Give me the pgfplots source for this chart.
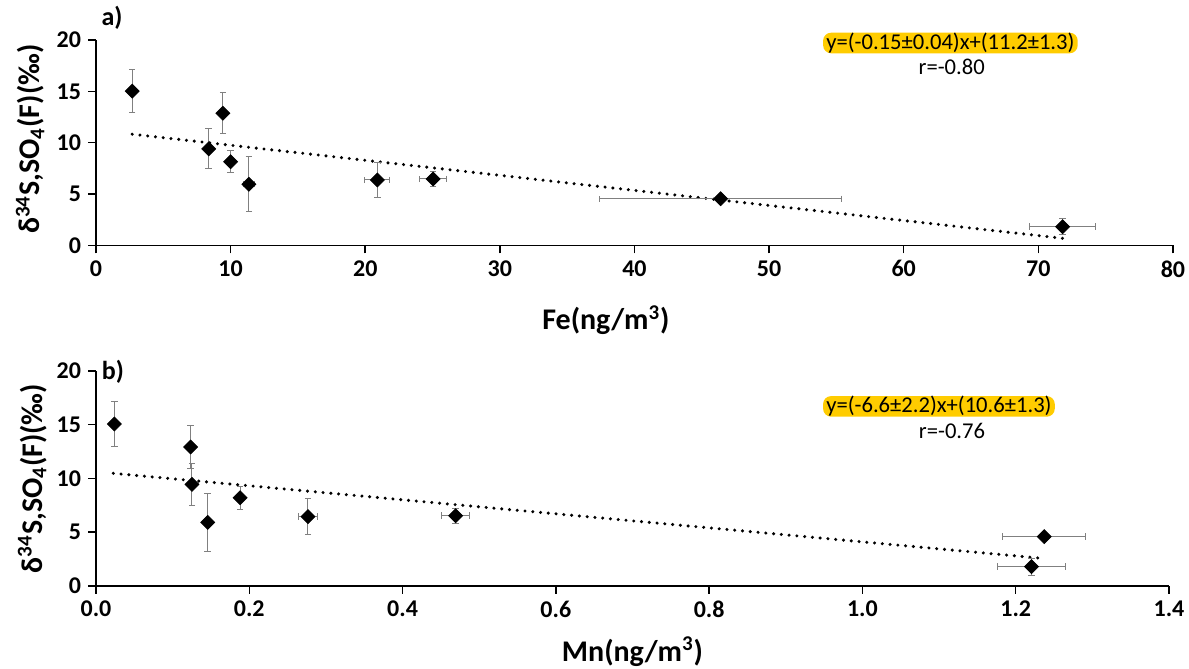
\documentclass[border=0pt]{standalone}
\usepackage{fontspec}
\setmainfont{Carlito}
\usepackage{pgfplots}
\pgfplotsset{compat=1.18}
\definecolor{gold}{RGB}{255,204,0}
\definecolor{errgray}{RGB}{128,128,128}
\pgfplotsset{
 myaxis/.style={
  scale only axis,
  axis x line*=bottom, axis y line*=left,
  axis line style={black, line width=0.75pt},
  tick style={black, line width=0.75pt},
  tick align=outside, major tick length=4pt,
  /pgf/number format/assume math mode=true,
  ticklabel style={font=\bfseries\fontsize{12}{14}\selectfont},
  label style={font=\bfseries\fontsize{15}{18}\selectfont},
  ymin=0, ymax=20, ytick={0,5,10,15,20},
  minor tick num=0,
 },
 pts/.style={only marks, mark=square*, mark size=2.45pt,
  mark options={rotate=45, fill=black, draw=black}, color=black,
  error bars/.cd, x dir=both, y dir=both, x explicit, y explicit,
  error bar style={errgray, line width=0.5pt},
  error mark options={errgray, mark size=1.6pt, line width=0.5pt, rotate=90}},
 trend/.style={black, line width=1.7pt, line cap=round, dash pattern=on 0pt off 3.9pt, no marks},
}
\begin{document}
\begin{tikzpicture}
\useasboundingbox (0,0) rectangle (594.5pt,334.5pt);
% ---------- a) Fe ----------
\begin{axis}[myaxis,
  at={(48pt,211.75pt)}, anchor=south west,
  width=538.5pt, height=102.75pt,
  xmin=0, xmax=80, xtick={0,10,...,80},
  xlabel={Fe(ng/m\textsuperscript{3})},
  ylabel={δ\textsuperscript{34}S,SO\textsubscript{4}(F)(‰)},
  xlabel style={at={(axis description cs:0.4735,-0.411)}, anchor=base},
  ylabel style={at={(axis description cs:-0.052,0.518)}, anchor=base, rotate=0},
]
\addplot[trend] coordinates {(2.69,10.83) (71.8,0.70)};
\addplot[pts] table[x=x,y=y,x error=ex,y error=ey]{
x y ex ey
2.69 15.02 0 2.1
9.43 12.87 0 2.0
8.37 9.40 0 1.95
10.0 8.16 0 1.07
11.36 5.96 0.4 2.7
20.9 6.38 0.93 1.7
25.04 6.48 0.99 0.72
46.4 4.55 9.0 0.3
71.8 1.83 2.45 0.75
};
\end{axis}
% ---------- b) Mn ----------
\begin{axis}[myaxis,
  at={(48pt,41.5pt)}, anchor=south west,
  width=536.5pt, height=107.5pt,
  xmin=0, xmax=1.4, xtick={0,0.2,...,1.4},
  xticklabel style={/pgf/number format/.cd, fixed, fixed zerofill, precision=1},
  xlabel={Mn(ng/m\textsuperscript{3})},
  ylabel={δ\textsuperscript{34}S,SO\textsubscript{4}(F)(‰)},
  xlabel style={at={(axis description cs:0.5,-0.349)}, anchor=base},
  ylabel style={at={(axis description cs:-0.0503,0.5)}, anchor=base, rotate=0},
]
\addplot[trend] coordinates {(0.0226,10.48) (1.2337,2.58)};
\addplot[pts] table[x=x,y=y,x error=ex,y error=ey]{
x y ex ey
0.0239 15.07 0 2.1
0.1235 12.93 0 2.0
0.1252 9.46 0 1.95
0.1457 5.92 0 2.7
0.1879 8.21 0 1.07
0.2766 6.45 0.0126 1.7
0.4693 6.54 0.018 0.7
1.2372 4.59 0.054 0.3
1.2207 1.80 0.0445 0.78
};
\end{axis}
% ---------- annotations ----------
\node[font=\bfseries\fontsize{13}{15}\selectfont] at (56pt,325.5pt) {a)};
\node[font=\bfseries\fontsize{13}{15}\selectfont] at (56.5pt,148.5pt) {b)};
\node[anchor=base west, fill=gold, rounded corners=4pt, inner xsep=1.6pt, inner ysep=0pt,
  text height=8.3pt, text depth=2pt, font=\fontsize{11.3}{13}\selectfont]
  at (411.35pt,309.85pt) {y=(-0.15±0.04)x+(11.2±1.3)};
\node[anchor=base, font=\fontsize{11.3}{13}\selectfont, inner sep=0pt] at (475.85pt,297.35pt) {r=-0.80};
\node[anchor=base west, fill=gold, rounded corners=4pt, inner xsep=1.6pt, inner ysep=0pt,
  text height=8.3pt, text depth=2pt, font=\fontsize{11.3}{13}\selectfont]
  at (411.35pt,128.15pt) {y=(-6.6±2.2)x+(10.6±1.3)};
\node[anchor=base, font=\fontsize{11.3}{13}\selectfont, inner sep=0pt] at (476pt,115.35pt) {r=-0.76};
\end{tikzpicture}
\end{document}
